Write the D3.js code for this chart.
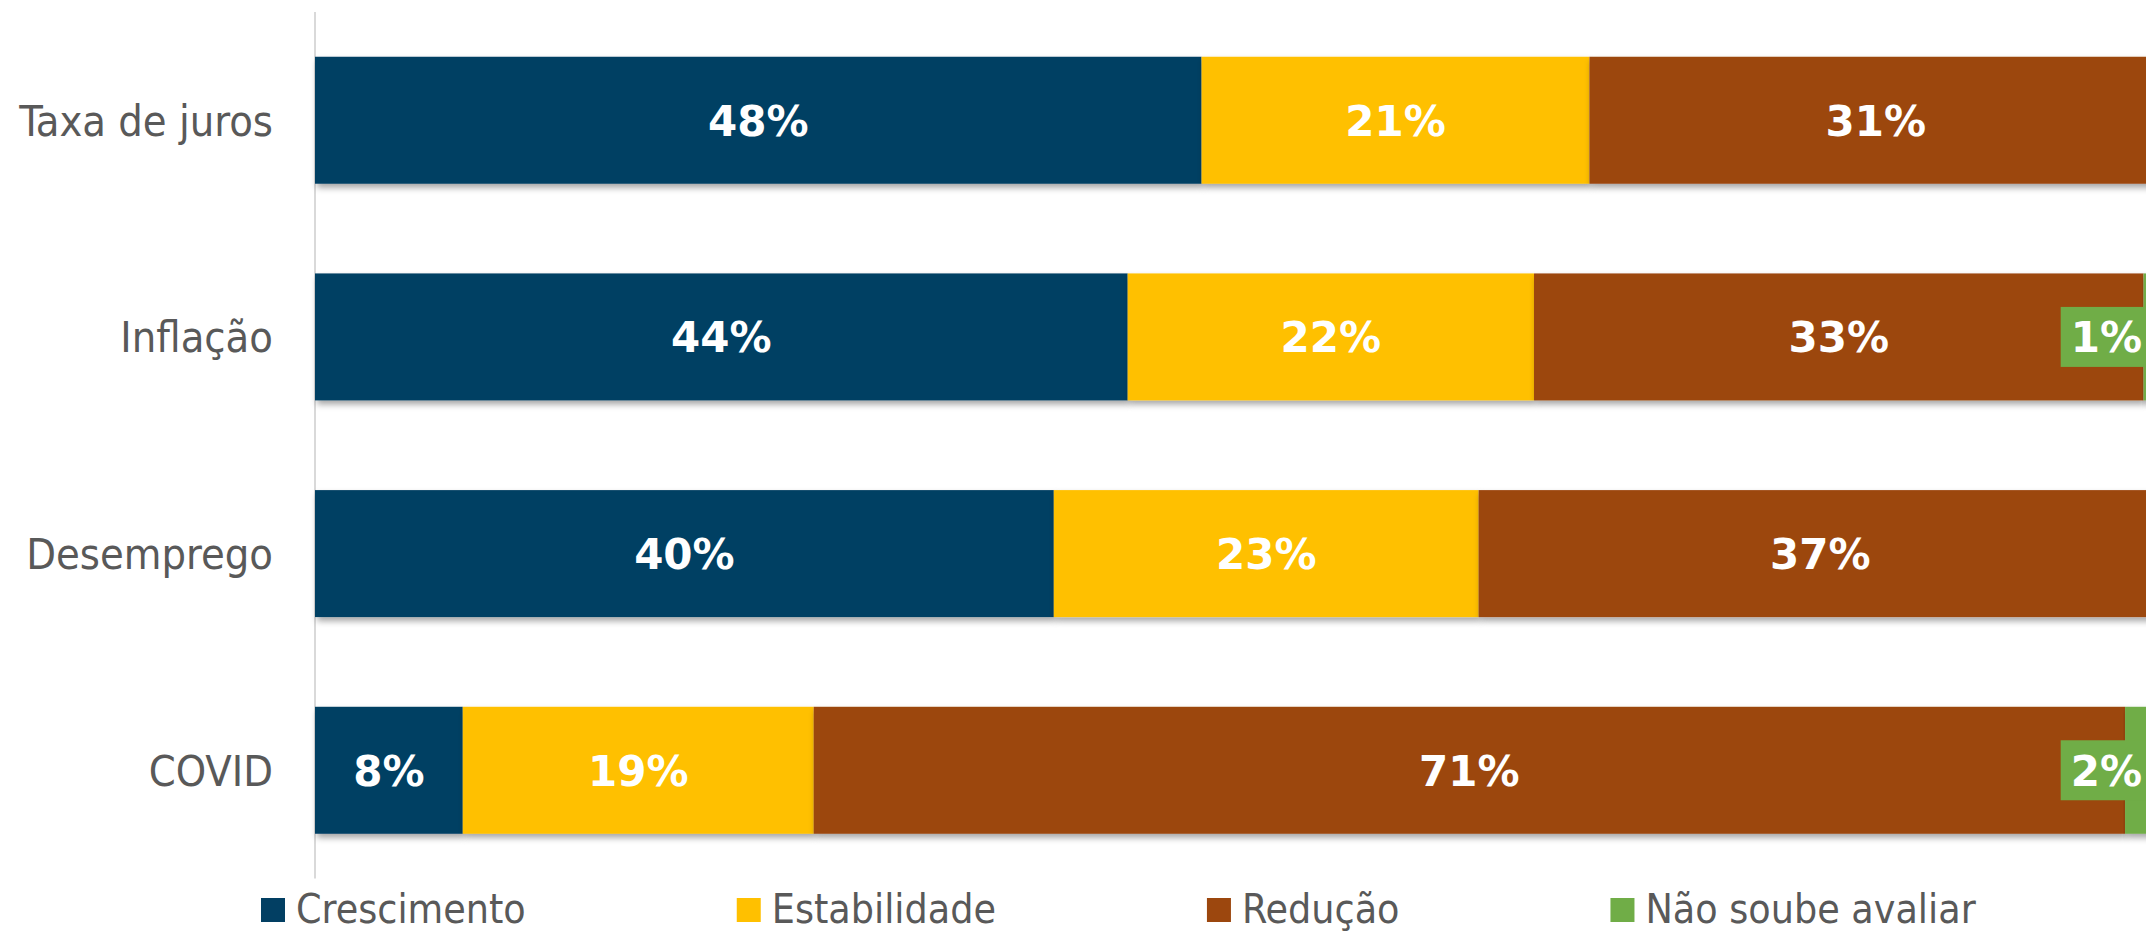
<!DOCTYPE html>
<html>
<head>
<meta charset="utf-8">
<script src="https://cdn.jsdelivr.net/npm/d3@7"></script>
<style>
  html, body { margin: 0; padding: 0; background: #ffffff; }
  svg { display: block; }
</style>
</head>
<body>
<svg id="chart" width="2146" height="931"></svg>
<script>
// ---- data ----
const categories = ["Taxa de juros", "Inflação", "Desemprego", "COVID"];
const seriesNames = ["Crescimento", "Estabilidade", "Redução", "Não soube avaliar"];
const crescimento = [48, 44, 40, 8];
const estabilidade = [21, 22, 23, 19];
const reducao = [31, 33, 37, 71];
const naoSoube = [0, 1, 0, 2];
const colors = ["#023F63", "#FFC000", "#9C470E", "#70AD47"];

const seriesValues = [crescimento, estabilidade, reducao, naoSoube];
const table = categories.map((c, i) => {
  const row = { category: c };
  seriesNames.forEach((s, j) => row[s] = seriesValues[j][i]);
  return row;
});

const svg = d3.select("#chart");
const fontCond = "'DejaVu Sans Condensed', 'DejaVu Sans', Verdana, sans-serif";
const fontBold = "'DejaVu Sans', Verdana, sans-serif";

const x = d3.scaleLinear().domain([0, 100]).range([315, 2162]);
const y = d3.scaleBand().domain(categories).range([11.9, 878.6])
  .paddingInner(0.414).paddingOuter(0.207);

const defs = svg.append("defs");
const f = defs.append("filter").attr("id", "shadow")
  .attr("x", "-5%").attr("y", "-20%").attr("width", "110%").attr("height", "150%");
f.append("feDropShadow").attr("dx", 2).attr("dy", 4).attr("stdDeviation", 3)
  .attr("flood-color", "#000").attr("flood-opacity", 0.35);

// axis line
svg.append("line")
  .attr("x1", x(0)).attr("x2", x(0))
  .attr("y1", y.range()[0]).attr("y2", y.range()[1])
  .attr("stroke", "#D9D9D9").attr("stroke-width", 2);

const stack = d3.stack().keys(seriesNames)(table);

const layers = svg.append("g").selectAll("g").data(stack).join("g")
  .attr("fill", (d, i) => colors[i]);

layers.selectAll("rect").data(d => d).join("rect")
  .attr("x", d => x(d[0]))
  .attr("width", d => x(d[1]) - x(d[0]))
  .attr("y", d => y(d.data.category))
  .attr("height", y.bandwidth())
  .attr("filter", "url(#shadow)");

// category labels
svg.append("g").selectAll("text").data(categories).join("text")
  .attr("x", 273)
  .attr("y", d => y(d) + y.bandwidth() / 2)
  .attr("dy", "0.36em")
  .attr("text-anchor", "end")
  .attr("font-family", fontCond)
  .attr("font-size", 43)
  .attr("fill", "#595959")
  .text(d => d);

// data labels
const labelG = svg.append("g");
stack.forEach((layer, si) => {
  layer.forEach(d => {
    const v = d[1] - d[0];
    if (v <= 0) return;
    const cy = y(d.data.category) + y.bandwidth() / 2;
    const cx = (x(d[0]) + x(d[1])) / 2;
    const g = labelG.append("g");
    const t = g.append("text")
      .attr("y", cy).attr("dy", "0.37em")
      .attr("font-family", fontBold).attr("font-weight", "bold")
      .attr("font-size", 42).attr("fill", "#ffffff")
      .text(v + "%");
    if (v < 5) {
      const w = t.node().getComputedTextLength();
      const pad = 10;
      let right = Math.min(cx + w / 2 + pad, x(100) - 10);
      const left = right - w - 2 * pad;
      g.insert("rect", "text")
        .attr("x", left).attr("width", w + 2 * pad)
        .attr("y", cy - 30).attr("height", 60)
        .attr("fill", colors[si]);
      t.attr("x", left + pad).attr("text-anchor", "start");
    } else {
      t.attr("x", cx).attr("text-anchor", "middle");
    }
  });
});

// legend
const legend = svg.append("g");
let lx = 261;
seriesNames.forEach((s, i) => {
  legend.append("rect")
    .attr("x", lx).attr("y", 898).attr("width", 24).attr("height", 24)
    .attr("fill", colors[i]);
  const t = legend.append("text")
    .attr("x", lx + 35).attr("y", 923)
    .attr("font-family", fontCond).attr("font-size", 40.7)
    .attr("fill", "#595959").text(s);
  lx += 35 + t.node().getComputedTextLength() + 211;
});
</script>
</body>
</html>
